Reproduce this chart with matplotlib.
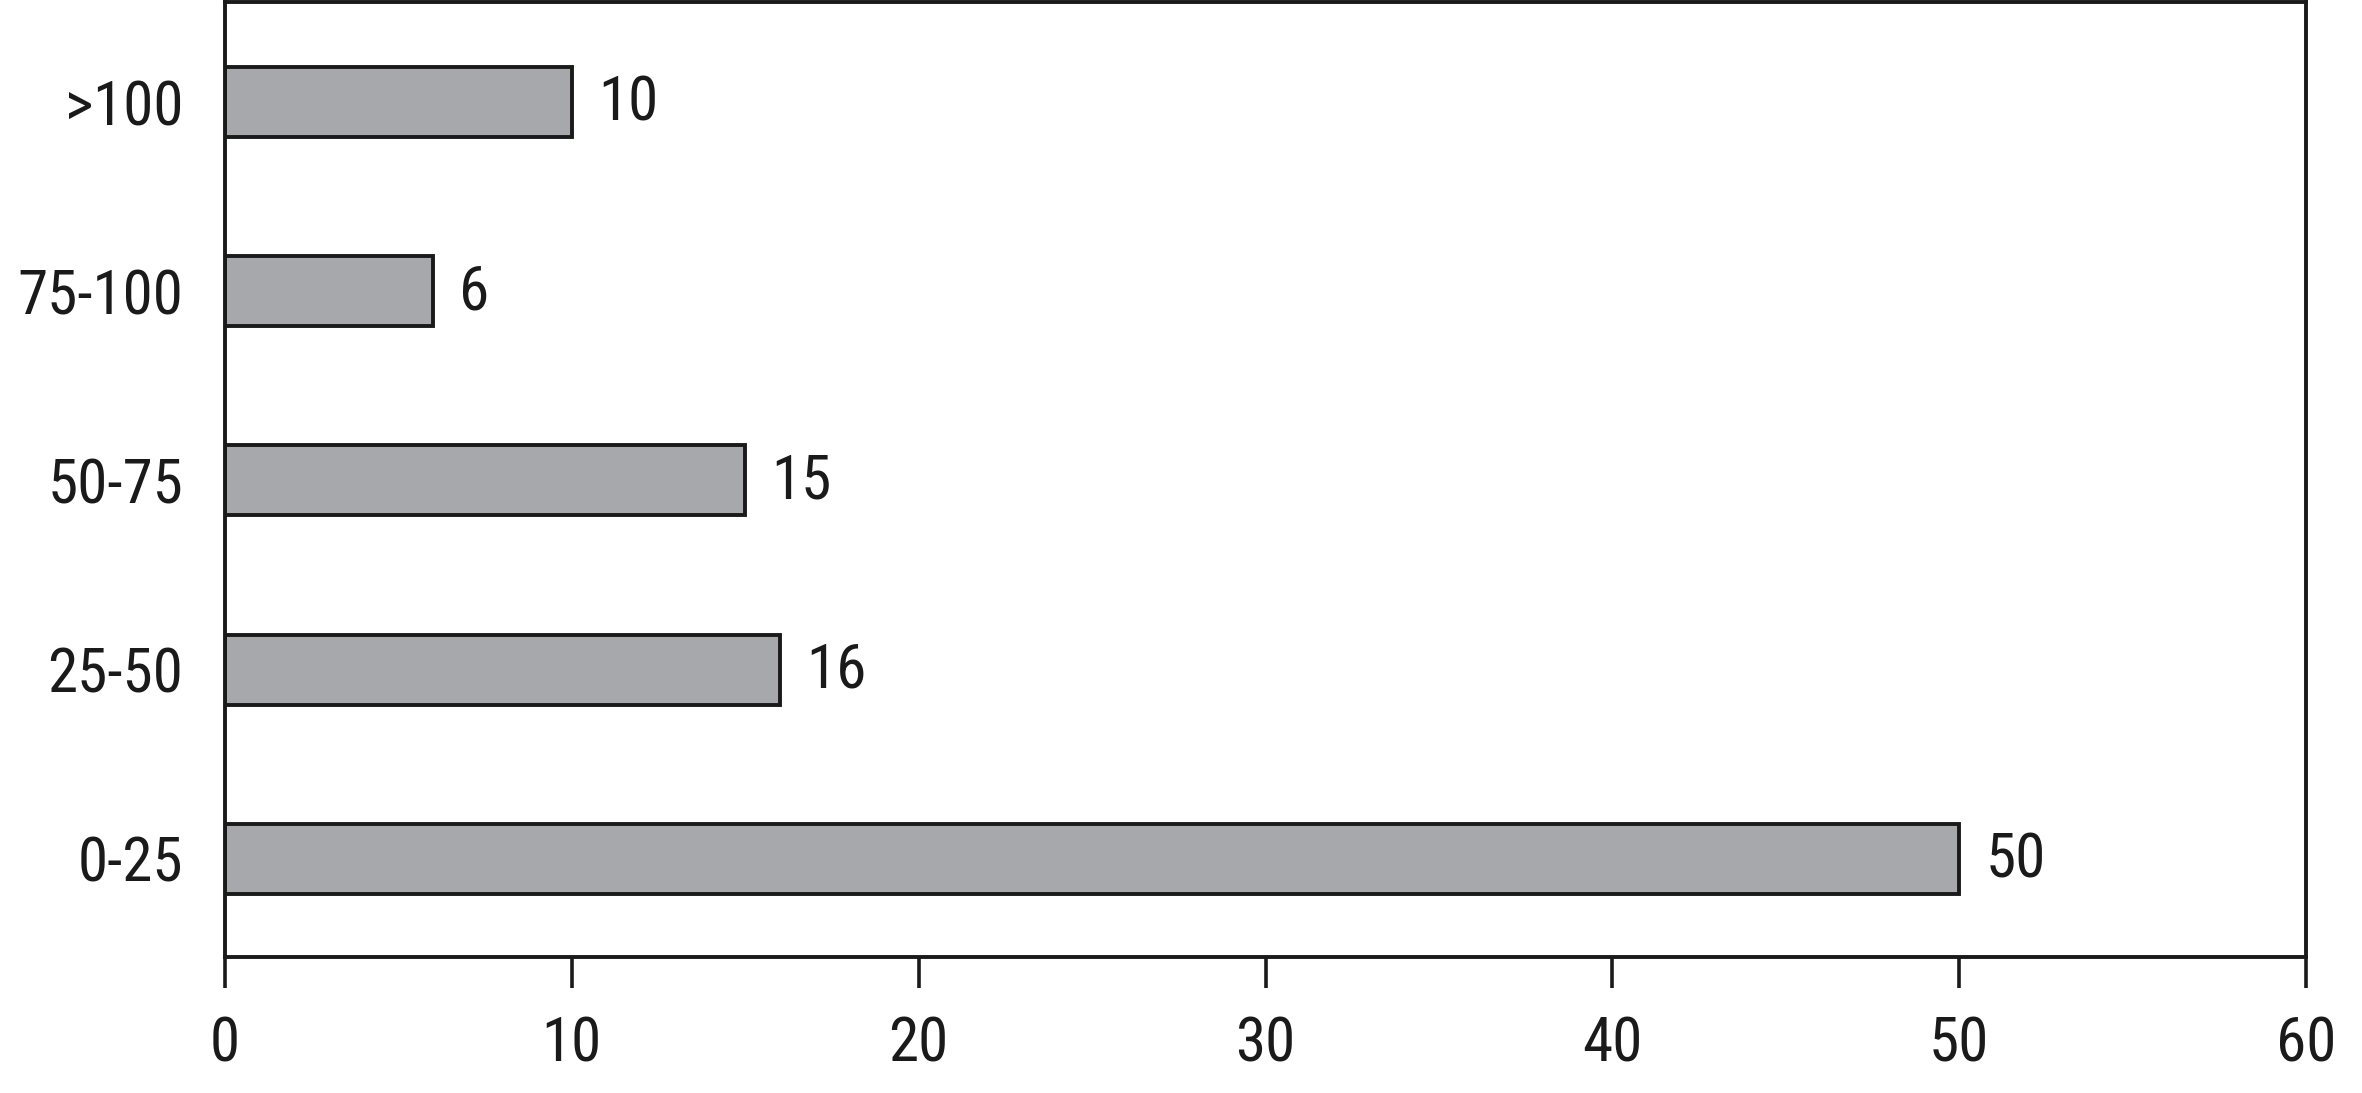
import matplotlib
matplotlib.use("Agg")
import matplotlib.pyplot as plt
from matplotlib import font_manager

categories = ["0-25", "25-50", "50-75", "75-100", ">100"]
values = [50, 16, 15, 6, 10]
xticks = [0, 10, 20, 30, 40, 50, 60]

names = {f.name for f in font_manager.fontManager.ttflist}
prefs = ["Liberation Sans Narrow", "Roboto Condensed", "Archivo Narrow", "PT Sans Narrow",
         "Arimo Narrow", "Open Sans Condensed", "Fira Sans Condensed", "Pragati Narrow"]
chosen = [p for p in prefs if p in names][:1]
plt.rcParams['font.family'] = chosen + ["Liberation Sans", "DejaVu Sans"]

W, H = 2362, 1093
fig = plt.figure(figsize=(W/100, H/100), dpi=100)
ax = fig.add_axes([225/W, 1 - 957/H, (2306-225)/W, (957-2)/H])

FS = 44
ypos = list(range(len(categories)))
ax.barh(ypos, values, height=0.37, color="#a6a8ab", edgecolor="#1a1a1a", linewidth=2.8)
for y, v in zip(ypos, values):
    ax.annotate(str(v), (v, y), xytext=(19, -1), textcoords="offset points",
                ha="left", va="center", fontsize=FS, color="#1a1a1a")

ax.set_xlim(0, 60)
ax.set_ylim(-0.52, 4.53)
ax.set_xticks(xticks)
ax.set_xticklabels([str(t) for t in xticks])
ax.set_yticks(ypos)
ax.set_yticklabels(categories)
ax.tick_params(axis="x", length=22, width=2.6, pad=20, labelsize=FS, colors="#1a1a1a")
ax.tick_params(axis="y", length=0, pad=30, labelsize=FS, colors="#1a1a1a")
for s in ax.spines.values():
    s.set_linewidth(2.8)
    s.set_color("#1a1a1a")

fig.savefig("out.png", dpi=100)
